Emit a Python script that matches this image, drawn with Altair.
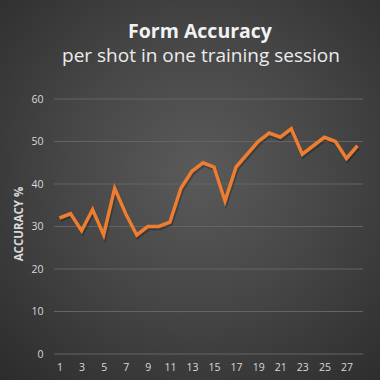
import altair as alt
import pandas as pd

# ---- data ----
shots = list(range(1, 29))
accuracy = [32, 33, 29, 34, 28, 39, 33, 28, 30, 30, 31, 39, 43, 45,
            44, 36, 44, 47, 50, 52, 51, 53, 47, 49, 51, 50, 46, 49]
y_ticks = [0, 10, 20, 30, 40, 50, 60]
x_labels = list(range(1, 28, 2))
title_text = ["Form Accuracy"]
subtitle_text = ["per shot in one training session"]
y_title = "ACCURACY %"

# ---- layout ----
W, H = 309, 255
PL, PT, PR, PB = 54, 99, 17, 26
FONT = "Open Sans"
LABEL = "#d9d9d9"

df = pd.DataFrame({"shot": shots, "accuracy": accuracy})
grid_df = pd.DataFrame({"v": y_ticks})
bg_df = pd.DataFrame({"k": [0]})
t_df = pd.DataFrame({"t": title_text})
s_df = pd.DataFrame({"t": subtitle_text})

yscale = alt.Scale(domain=[0, 60], nice=False, zero=True)
xscale = alt.Scale(domain=shots)

x_axis = alt.Axis(values=x_labels, labelAngle=0, title=None,
                  domain=False, ticks=False, grid=False,
                  labelColor=LABEL, labelFont=FONT, labelFontSize=10.5,
                  labelPadding=8, zindex=1)
y_axis = alt.Axis(values=y_ticks, title=y_title,
                  domain=False, ticks=False, grid=False,
                  labelColor=LABEL, labelFont=FONT, labelFontSize=10.5,
                  labelPadding=11, titleColor=LABEL, titleFont=FONT,
                  titleFontSize=11.5, titleFontWeight="bold",
                  titlePadding=6, titleY=124.5, zindex=1)

grad = alt.RadialGradient(
    gradient="radial",
    stops=[alt.GradientStop(color="#5a5a5a", offset=0),
           alt.GradientStop(color="#474747", offset=0.45),
           alt.GradientStop(color="#2c2c2c", offset=1)],
    x1=0.52, y1=0.45, x2=0.52, y2=0.45, r1=0, r2=0.75,
)

bg = alt.Chart(bg_df).mark_rect(fill=grad, strokeWidth=0).encode(
    x=alt.value(-PL), x2=alt.value(W + PR),
    y=alt.value(-PT), y2=alt.value(H + PB),
)

grid = alt.Chart(grid_df).mark_rule(color="#646464", strokeWidth=1).encode(
    y=alt.Y("v:Q", scale=yscale, axis=y_axis),
    x=alt.value(0), x2=alt.value(W),
)

shadow = alt.Chart(df).mark_line(
    color="#000000", opacity=0.25, strokeWidth=4, xOffset=1, yOffset=2
).encode(
    x=alt.X("shot:O", scale=xscale, axis=x_axis),
    y=alt.Y("accuracy:Q", scale=yscale, axis=y_axis),
)

line = alt.Chart(df).mark_line(color="#ED7D31", strokeWidth=3.5).encode(
    x=alt.X("shot:O", scale=xscale, axis=x_axis),
    y=alt.Y("accuracy:Q", scale=yscale, axis=y_axis),
)

title = alt.Chart(t_df).mark_text(
    font=FONT, fontSize=19.5, fontWeight="bold", color="#f2f2f2",
    align="center", baseline="alphabetic"
).encode(text="t:N", x=alt.value(200 - PL), y=alt.value(37.5 - PT))

subtitle = alt.Chart(s_df).mark_text(
    font=FONT, fontSize=19, color="#ececec",
    align="center", baseline="alphabetic"
).encode(text="t:N", x=alt.value(201 - PL), y=alt.value(61.5 - PT))

chart = alt.layer(bg, grid, shadow, line, title, subtitle).properties(
    width=W, height=H,
    autosize=alt.AutoSizeParams(type="none"),
    padding={"left": PL, "top": PT, "right": PR, "bottom": PB},
    background="#3a3a3a",
).configure_view(stroke=None)

chart.save("out.html", embed_options={"renderer": "svg", "actions": False})
